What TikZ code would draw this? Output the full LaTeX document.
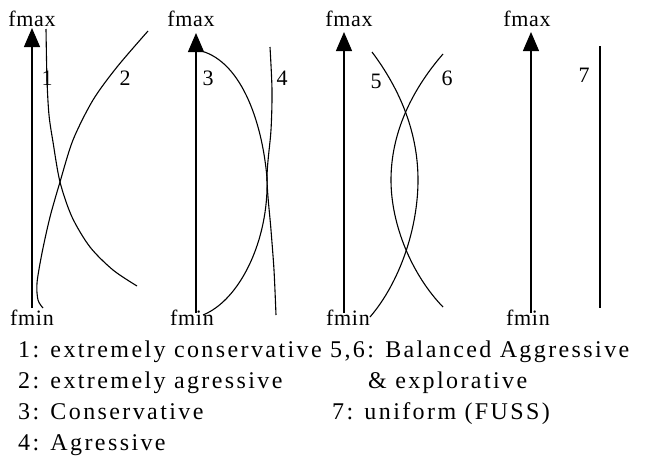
\documentclass[tikz,border=0pt]{standalone}
\usepackage{fontspec}
\setmainfont{Liberation Serif}[LetterSpace=10]
\newfontfamily\tightfont{Liberation Serif}[LetterSpace=3]
\usetikzlibrary{arrows.meta}
\begin{document}
\begin{tikzpicture}[x=1pt,y=-1pt,
  axis/.style={line width=1.3pt,-{Triangle[width=16pt,length=19pt]}},
  curve/.style={line width=1.1pt},
  lbl/.style={font=\tightfont\fontsize{22}{26}\selectfont,inner sep=0pt,anchor=base},
  legend/.style={font=\fontsize{24}{28}\selectfont,inner sep=0pt,anchor=base west}]
\useasboundingbox (0,0) rectangle (645,455);
% axes
\foreach \n/\x/\t/\b in {1/32/28/308, 2/196/33/313, 3/344/32/313, 4/531/32/313}{
  \coordinate (top\n) at (\x,\t);
  \coordinate (bot\n) at (\x,\b);
  \draw[axis] (bot\n) -- (top\n);
}
% fmax / fmin labels
\node[lbl] (fmax1) at (32,26) {fmax};
\node[lbl] (fmax2) at (191,27) {fmax};
\node[lbl] (fmax3) at (349,27) {fmax};
\node[lbl] (fmax4) at (527,27) {fmax};
\node[lbl] (fmin1) at (32,325) {fmin};
\node[lbl] (fmin2) at (192,325) {fmin};
\node[lbl] (fmin3) at (348,325) {fmin};
\node[lbl] (fmin4) at (528,325) {fmin};
% curves
\draw[curve] plot[smooth] coordinates {(46,29) (47,80) (49,115) (53,142) (60,182) (72,217) (90,247) (113,270) (137,286)};
\draw[curve] plot[smooth] coordinates {(148,31) (117,67) (93,100) (73,140) (60,182) (50,217) (42,253) (37,283) (38,300) (43,308)};
\coordinate (c3s) at (197,50);
\coordinate (c3m) at (267,178);
\coordinate (c3e) at (203,315);
\draw[curve] (c3s) .. controls (240,58) and (262,120) .. (c3m) .. controls (269,240) and (240,300) .. (c3e);
\draw[curve] plot[smooth] coordinates {(270,47) (272,90) (271,130) (267,178) (271,230) (274,270) (276,315)};
\coordinate (c5s) at (372,52);
\coordinate (c5m) at (418,180);
\coordinate (c5e) at (370,317);
\draw[curve] (c5s) .. controls (402,92) and (418,135) .. (c5m) .. controls (418,228) and (400,282) .. (c5e);
\coordinate (c6s) at (443,54);
\coordinate (c6m) at (391,180);
\coordinate (c6e) at (443,307);
\draw[curve] (c6s) .. controls (410,92) and (391,135) .. (c6m) .. controls (391,225) and (412,275) .. (c6e);
\coordinate (s7) at (600,46);
\coordinate (e7) at (600,308);
\draw[curve] (s7) -- (e7);
% curve numbers
\node[lbl] (n1) at (47,85) {1};
\node[lbl] (n2) at (125,85) {2};
\node[lbl] (n3) at (208,85) {3};
\node[lbl] (n4) at (282,85) {4};
\node[lbl] (n5) at (376,88) {5};
\node[lbl] (n6) at (447,85) {6};
\node[lbl] (n7) at (584,82) {7};
% legend
\node[legend] (l1) at (18,357) {1: extremely conservative};
\node[legend] (l2) at (18,388) {2: extremely agressive};
\node[legend] (l3) at (18,419) {3: Conservative};
\node[legend] (l4) at (18,450) {4: Agressive};
\node[legend] (l5) at (330,357) {5,6: Balanced Aggressive};
\node[legend] (l6) at (368,388) {\& explorative};
\node[legend] (l7) at (332,419) {7: uniform (FUSS)};
\end{tikzpicture}
\end{document}
